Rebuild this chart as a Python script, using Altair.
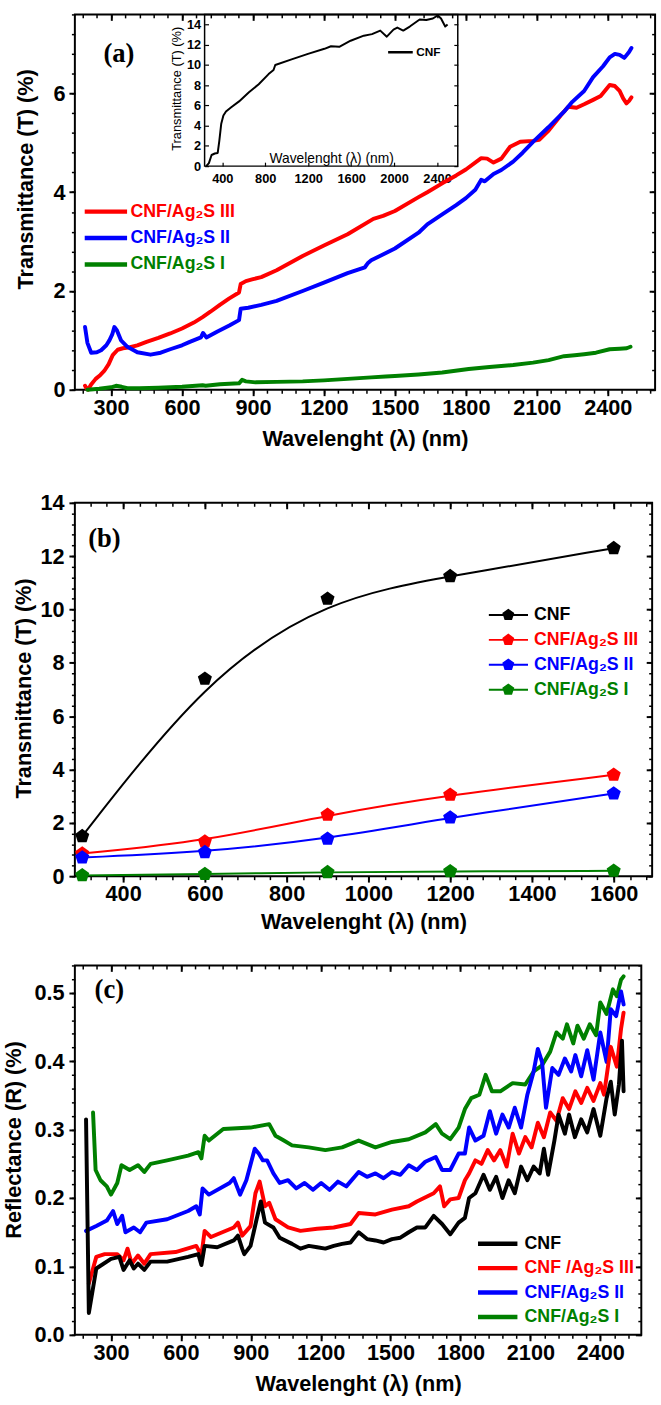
import altair as alt
import pandas as pd

SANS = "Liberation Sans"
SERIF = "Liberation Serif"
RED, BLUE, GREEN, BLACK = "#ff0000", "#0000ff", "#008000", "#000000"
X_TITLE = "Wavelenght (λ) (nm)"

# ---------------- (a) transmittance of the CNF/Ag2S films ----------------
A_NAMES = ["CNF/Ag₂S III", "CNF/Ag₂S II", "CNF/Ag₂S I"]
A_COLORS = [RED, BLUE, GREEN]

A_III_WL = [190, 197, 203, 215, 235, 255, 271, 290, 307, 328, 350, 380, 411, 450, 500, 550, 600, 650,
            687, 720, 760, 800, 841, 848, 870, 900, 935, 1000, 1110, 1200, 1300, 1409, 1450, 1500,
            1600, 1637, 1700, 1759, 1800, 1865, 1890, 1917, 1950, 1987, 2030, 2084, 2110, 2150, 2200,
            2233, 2268, 2300, 2338, 2370, 2408, 2430, 2450, 2465, 2479, 2490, 2500]
A_III_T = [0.08, 0.02, 0.0, 0.1, 0.22, 0.3, 0.38, 0.52, 0.7, 0.81, 0.84, 0.86, 0.9, 0.97, 1.05, 1.14,
           1.24, 1.36, 1.47, 1.58, 1.72, 1.85, 1.97, 2.14, 2.2, 2.24, 2.28, 2.42, 2.71, 2.92, 3.15,
           3.46, 3.52, 3.62, 3.9, 4.0, 4.18, 4.34, 4.46, 4.69, 4.68, 4.6, 4.68, 4.92, 5.02, 5.04,
           5.06, 5.25, 5.55, 5.73, 5.71, 5.78, 5.87, 5.95, 6.17, 6.15, 6.05, 5.9, 5.8, 5.85, 5.92]

A_II_WL = [190, 200, 216, 240, 258, 280, 293, 305, 314, 325, 342, 369, 411, 467, 510, 550, 600, 633,
           680, 689, 703, 750, 800, 841, 848, 880, 935, 1000, 1110, 1200, 1300, 1373, 1385, 1400,
           1500, 1600, 1637, 1700, 1759, 1800, 1840, 1865, 1880, 1917, 1950, 2000, 2040, 2084, 2150,
           2215, 2250, 2300, 2338, 2380, 2408, 2430, 2450, 2470, 2490, 2500]
A_II_T = [1.27, 0.95, 0.75, 0.76, 0.8, 0.9, 1.0, 1.12, 1.27, 1.2, 1.0, 0.87, 0.76, 0.71, 0.75, 0.82,
          0.9, 0.97, 1.06, 1.15, 1.06, 1.18, 1.3, 1.41, 1.64, 1.66, 1.72, 1.8, 2.0, 2.17, 2.36, 2.48,
          2.56, 2.62, 2.86, 3.18, 3.35, 3.55, 3.74, 3.88, 4.05, 4.25, 4.22, 4.37, 4.45, 4.62, 4.8,
          5.02, 5.32, 5.63, 5.83, 6.05, 6.33, 6.55, 6.73, 6.8, 6.78, 6.72, 6.84, 6.92]

A_I_WL = [200, 250, 300, 321, 345, 369, 420, 500, 600, 687, 700, 760, 841, 854, 870, 911, 1000, 1110,
          1200, 1300, 1400, 1461, 1500, 1600, 1700, 1812, 1900, 2000, 2084, 2150, 2215, 2260, 2300,
          2350, 2408, 2450, 2480, 2496]
A_I_T = [0.0, 0.02, 0.05, 0.08, 0.06, 0.03, 0.03, 0.04, 0.06, 0.09, 0.08, 0.11, 0.13, 0.2, 0.17,
         0.15, 0.16, 0.17, 0.19, 0.22, 0.25, 0.27, 0.28, 0.31, 0.35, 0.42, 0.46, 0.5, 0.55, 0.6,
         0.68, 0.7, 0.72, 0.75, 0.82, 0.83, 0.84, 0.87]

# inset of (a): bare CNF film
INSET_WL = [250, 275, 300, 330, 357, 372, 390, 410, 434, 480, 556, 648, 739, 831, 877, 893, 1045,
            1198, 1351, 1412, 1489, 1595, 1718, 1794, 1871, 1932, 1994, 2030, 2085, 2146, 2238,
            2299, 2361, 2407, 2437, 2476, 2498]
INSET_T = [0.0, 0.3, 1.1, 1.25, 1.3, 2.5, 4.2, 5.0, 5.4, 5.8, 6.4, 7.3, 8.1, 9.1, 9.5, 10.0, 10.55,
           11.1, 11.6, 11.85, 11.8, 12.4, 12.9, 13.05, 13.4, 12.8, 13.5, 13.7, 13.4, 13.8, 14.5,
           14.45, 14.6, 14.9, 14.6, 13.8, 14.0]

# ---------------- (b) transmittance at selected wavelengths ----------------
B_NAMES = ["CNF", "CNF/Ag₂S III", "CNF/Ag₂S II", "CNF/Ag₂S I"]
B_COLORS = [BLACK, RED, BLUE, GREEN]
B_WL = [300, 600, 900, 1200, 1600]
B_CNF = [1.5, 7.4, 10.4, 11.25, 12.3]
B_III = [0.85, 1.3, 2.3, 3.05, 3.8]
B_II = [0.7, 0.9, 1.4, 2.2, 3.1]
B_I = [0.03, 0.08, 0.15, 0.18, 0.2]

# ---------------- (c) reflectance ----------------
C_NAMES = ["CNF", "CNF /Ag₂S III", "CNF/Ag₂S II", "CNF/Ag₂S I"]
C_COLORS = [BLACK, RED, BLUE, GREEN]

C_CNF_WL = [193, 205, 237, 300, 336, 354, 380, 398, 416, 443, 470, 541, 631, 675, 688, 702, 756, 827,
            845, 863, 872, 899, 925, 943, 961, 997, 1024, 1077, 1113, 1149, 1185, 1220, 1256, 1292,
            1328, 1363, 1399, 1435, 1470, 1506, 1542, 1578, 1613, 1649, 1685, 1721, 1756, 1792,
            1819, 1837, 1864, 1899, 1926, 1953, 1980, 2007, 2033, 2060, 2087, 2114, 2140, 2158,
            2176, 2203, 2221, 2248, 2266, 2291, 2318, 2344, 2371, 2400, 2427, 2445, 2462, 2480,
            2493, 2500]
C_CNF_R = [0.315, 0.032, 0.097, 0.111, 0.114, 0.095, 0.109, 0.097, 0.104, 0.095, 0.107, 0.107, 0.114,
           0.118, 0.102, 0.13, 0.128, 0.138, 0.145, 0.126, 0.118, 0.13, 0.169, 0.195, 0.164, 0.157,
           0.142, 0.133, 0.126, 0.13, 0.128, 0.126, 0.13, 0.133, 0.135, 0.15, 0.14, 0.138, 0.135,
           0.14, 0.142, 0.15, 0.157, 0.157, 0.174, 0.162, 0.147, 0.164, 0.171, 0.2, 0.207, 0.234,
           0.212, 0.231, 0.2, 0.226, 0.207, 0.246, 0.226, 0.246, 0.236, 0.272, 0.234, 0.284, 0.322,
           0.294, 0.322, 0.289, 0.315, 0.296, 0.33, 0.291, 0.346, 0.37, 0.322, 0.366, 0.43, 0.356]

C_III_WL = [205, 237, 273, 327, 354, 371, 389, 416, 443, 470, 577, 666, 688, 702, 729, 827, 845, 863,
            899, 920, 938, 961, 979, 1006, 1060, 1113, 1185, 1256, 1328, 1363, 1435, 1506, 1578,
            1613, 1685, 1712, 1730, 1756, 1792, 1819, 1837, 1864, 1890, 1917, 1944, 1971, 1998,
            2024, 2051, 2078, 2105, 2132, 2158, 2185, 2212, 2239, 2266, 2293, 2318, 2344, 2371,
            2400, 2416, 2445, 2471, 2489, 2500]
C_III_R = [0.075, 0.114, 0.118, 0.118, 0.109, 0.126, 0.104, 0.116, 0.104, 0.118, 0.121, 0.13, 0.116,
           0.152, 0.143, 0.157, 0.164, 0.145, 0.159, 0.207, 0.224, 0.188, 0.193, 0.169, 0.157,
           0.152, 0.155, 0.157, 0.162, 0.178, 0.176, 0.183, 0.188, 0.195, 0.207, 0.217, 0.188,
           0.198, 0.2, 0.226, 0.236, 0.255, 0.25, 0.27, 0.255, 0.27, 0.246, 0.294, 0.265, 0.289,
           0.274, 0.31, 0.289, 0.325, 0.313, 0.346, 0.33, 0.356, 0.339, 0.361, 0.342, 0.368, 0.351,
           0.421, 0.392, 0.447, 0.471]

C_II_WL = [193, 237, 282, 309, 327, 348, 362, 398, 425, 452, 541, 631, 666, 681, 693, 720, 809, 827,
           854, 881, 917, 934, 952, 970, 997, 1024, 1060, 1095, 1131, 1167, 1202, 1238, 1274, 1310,
           1363, 1399, 1435, 1470, 1506, 1542, 1578, 1613, 1649, 1694, 1721, 1756, 1792, 1819,
           1837, 1864, 1899, 1926, 1953, 1980, 2007, 2033, 2060, 2087, 2114, 2132, 2150, 2167,
           2194, 2221, 2248, 2275, 2293, 2318, 2344, 2371, 2400, 2427, 2445, 2468, 2489, 2500]
C_II_R = [0.152, 0.159, 0.167, 0.181, 0.162, 0.174, 0.15, 0.157, 0.15, 0.164, 0.169, 0.181, 0.188,
          0.176, 0.214, 0.205, 0.222, 0.229, 0.205, 0.226, 0.272, 0.265, 0.255, 0.255, 0.236, 0.222,
          0.226, 0.214, 0.222, 0.212, 0.222, 0.212, 0.224, 0.217, 0.238, 0.231, 0.236, 0.229, 0.238,
          0.234, 0.248, 0.241, 0.253, 0.26, 0.241, 0.241, 0.265, 0.265, 0.303, 0.284, 0.291, 0.327,
          0.294, 0.322, 0.303, 0.332, 0.303, 0.351, 0.385, 0.418, 0.399, 0.332, 0.39, 0.38, 0.404,
          0.385, 0.409, 0.378, 0.416, 0.373, 0.442, 0.399, 0.476, 0.466, 0.502, 0.483]

C_I_WL = [223, 234, 255, 282, 300, 327, 345, 380, 416, 443, 470, 541, 631, 675, 688, 702, 720, 782,
          899, 979, 1006, 1042, 1077, 1149, 1220, 1292, 1363, 1435, 1506, 1578, 1649, 1694, 1721,
          1756, 1792, 1819, 1846, 1881, 1908, 1935, 1971, 2024, 2078, 2114, 2150, 2185, 2212, 2239,
          2257, 2284, 2302, 2329, 2355, 2382, 2400, 2427, 2454, 2471, 2489, 2500]
C_I_R = [0.325, 0.241, 0.226, 0.217, 0.205, 0.222, 0.248, 0.241, 0.248, 0.238, 0.25, 0.255, 0.262,
         0.267, 0.258, 0.291, 0.284, 0.301, 0.303, 0.308, 0.291, 0.284, 0.277, 0.274, 0.27, 0.274,
         0.284, 0.274, 0.282, 0.286, 0.296, 0.308, 0.294, 0.286, 0.303, 0.33, 0.346, 0.351, 0.38,
         0.356, 0.356, 0.368, 0.366, 0.385, 0.394, 0.414, 0.442, 0.433, 0.454, 0.426, 0.452, 0.433,
         0.454, 0.438, 0.486, 0.469, 0.505, 0.495, 0.519, 0.524]

# ---------------- axes, ticks and frames ----------------
A_XDOM, A_YDOM = [147, 2600], [0, 7.6]
B_XDOM, B_YDOM = [282, 1694], [0, 14]
C_XDOM, C_YDOM = [145, 2576], [0, 0.54]
IN_XDOM, IN_YDOM = [235, 2593], [0, 15]


def steps(start, stop, step):
    out, v = [], start
    while v <= stop + 1e-9:
        out.append(round(v, 6))
        v += step
    return out


A_X_MAJOR, A_X_MINOR = steps(300, 2400, 300), steps(180, 2580, 60)
A_Y_MAJOR, A_Y_MINOR = steps(0, 6, 2), steps(0, 7.6, 0.4)
B_X_MAJOR, B_X_MINOR = steps(400, 1600, 200), steps(320, 1680, 40)
B_Y_MAJOR, B_Y_MINOR = steps(0, 14, 2), steps(0, 14, 0.4)
C_X_MAJOR, C_X_MINOR = steps(300, 2400, 300), steps(180, 2570, 60)
C_Y_MAJOR, C_Y_MINOR = steps(0, 0.5, 0.1), steps(0, 0.54, 0.02)
IN_X_MAJOR, IN_Y_MAJOR = steps(400, 2400, 400), steps(0, 14, 2)

LABEL_COLOR = {"expr": "indexof(datum.label, 'III') >= 0 ? '#ff0000' : "
                       "indexof(datum.label, 'II') >= 0 ? '#0000ff' : "
                       "indexof(datum.label, ' I') >= 0 ? '#008000' : '#000000'"}

PENTAGON = "M0,-1L0.951,-0.309L0.588,0.809L-0.588,0.809L-0.951,-0.309Z"
LINE_PENTAGON = ("M-1,-0.05L1,-0.05L1,0.05L-1,0.05Z"
                 "M0,-0.32L0.304,-0.099L0.188,0.259L-0.188,0.259L-0.304,-0.099Z")


def long_table(series):
    rows = []
    for name, wl, vals in series:
        rows += [{"wl": w, "val": v, "series": name} for w, v in zip(wl, vals)]
    return pd.DataFrame(rows)


def axis(**kw):
    base = dict(grid=False, domain=False, tickColor=BLACK, tickWidth=2, minExtent=0,
                labelFont=SANS, labelFontSize=22, labelFontWeight="bold", labelColor=BLACK,
                labelFlush=False, labelOverlap=False, titleFont=SANS, titleFontSize=22,
                titleFontWeight="bold", titleColor=BLACK)
    base.update(kw)
    return alt.Axis(**base)


def legend(x, y, row_pad, **kw):
    base = dict(orient="none", legendX=x, legendY=y, title=None, padding=0, rowPadding=row_pad,
                clipHeight=18, labelFont=SANS, labelFontSize=18, labelFontWeight="bold",
                labelColor=LABEL_COLOR, labelLimit=0)
    base.update(kw)
    return alt.Legend(**base)


def frame_ticks(xscale, yscale, xdom, ydom, xmaj, xmin, ymaj, ymin, major=6, minor=3.5):
    """Minor ticks on bottom/left and mirrored inward ticks on top/right."""
    corner = pd.DataFrame({"wl": [xdom[0]], "val": [ydom[0]]})
    bare = dict(labels=False, title=None)

    def ghost(xax, yax):
        return alt.Chart(corner).mark_point(opacity=0).encode(
            x=alt.X("wl:Q", scale=xscale, axis=xax),
            y=alt.Y("val:Q", scale=yscale, axis=yax))

    return [
        ghost(axis(orient="bottom", values=xmin, tickSize=minor, tickWidth=1.5, **bare),
              axis(orient="left", values=ymin, tickSize=minor, tickWidth=1.5, **bare)),
        ghost(axis(orient="top", values=xmaj, tickSize=major, offset=-major, **bare),
              axis(orient="right", values=ymaj, tickSize=major, offset=-major, **bare)),
        ghost(axis(orient="top", values=xmin, tickSize=minor, offset=-minor, tickWidth=1.5, **bare),
              axis(orient="right", values=ymin, tickSize=minor, offset=-minor, tickWidth=1.5, **bare)),
    ]


def tag(text, x, y):
    return alt.Chart(pd.DataFrame({"tag": [text]})).mark_text(
        font=SERIF, fontSize=27, fontWeight="bold", color=BLACK
    ).encode(text="tag:N", x=alt.value(x), y=alt.value(y))


# ---------------- panel (a) ----------------
A_W, A_H = 589, 381
xs_a = alt.Scale(domain=A_XDOM, nice=False, zero=False)
ys_a = alt.Scale(domain=A_YDOM, nice=False, zero=False)

lines_a = alt.Chart(long_table([
    (A_NAMES[0], A_III_WL, A_III_T), (A_NAMES[1], A_II_WL, A_II_T), (A_NAMES[2], A_I_WL, A_I_T)
])).mark_line(strokeWidth=4, strokeCap="round", strokeJoin="round").encode(
    x=alt.X("wl:Q", scale=xs_a,
            axis=axis(orient="bottom", values=A_X_MAJOR, format="d", tickSize=6, labelPadding=2,
                      title=X_TITLE, titleBaseline="alphabetic", titleY=57)),
    y=alt.Y("val:Q", scale=ys_a,
            axis=axis(orient="left", values=A_Y_MAJOR, format="d", tickSize=6, labelPadding=4,
                      title="Transmittance (T) (%)", titleX=-50.3, titleY=167, titleAngle=270,
                      titleAlign="center", titleBaseline="middle")),
    color=alt.Color("series:N", scale=alt.Scale(domain=A_NAMES, range=A_COLORS),
                    legend=legend(7.5, 191.2, 8.8, symbolType="stroke", symbolSize=1849,
                                  symbolStrokeWidth=4.5, labelOffset=1)),
)

main_a = alt.layer(
    lines_a,
    *frame_ticks(xs_a, ys_a, A_XDOM, A_YDOM, A_X_MAJOR, A_X_MINOR, A_Y_MAJOR, A_Y_MINOR),
    tag("(a)", 44.7, 40.3),
).resolve_axis(x="independent", y="independent")

# inset placed through its own scale ranges inside panel (a)
xs_in = alt.Scale(domain=IN_XDOM, range=[131.7, 388.7], nice=False, zero=False)
ys_in = alt.Scale(domain=IN_YDOM, range=[154, 0], nice=False, zero=False)

inset_box = alt.Chart(pd.DataFrame({
    "x0": [IN_XDOM[0]], "x1": [IN_XDOM[1]], "y0": [IN_YDOM[0]], "y1": [IN_YDOM[1]]
})).mark_rect(fillOpacity=0, stroke=BLACK, strokeWidth=1.5).encode(
    x=alt.X("x0:Q", scale=xs_in, axis=None), x2="x1",
    y=alt.Y("y0:Q", scale=ys_in, axis=None), y2="y1")

inset_line = alt.Chart(long_table([("CNF", INSET_WL, INSET_T)])).mark_line(
    strokeWidth=2, strokeJoin="round"
).encode(
    x=alt.X("wl:Q", scale=xs_in,
            axis=axis(orient="bottom", values=IN_X_MAJOR, format="d", offset=-231, tickSize=4,
                      tickWidth=1.2, labelFontSize=13, labelPadding=7, title=X_TITLE,
                      titleFontSize=14, titleFontWeight="normal", titleBaseline="alphabetic",
                      titleX=260.2, titleY=0)),
    y=alt.Y("val:Q", scale=ys_in,
            axis=axis(orient="left", values=IN_Y_MAJOR, format="d", offset=-135.7, tickSize=4,
                      tickWidth=1.2, labelFontSize=13, labelPadding=4,
                      title="Transmittance (T) (%)", titleFontSize=13, titleFontWeight="normal",
                      titleX=-32, titleY=75, titleAngle=270, titleAlign="center",
                      titleBaseline="middle")),
    color=alt.Color("series:N", scale=alt.Scale(domain=["CNF"], range=[BLACK]),
                    legend=alt.Legend(orient="none", legendX=316.5, legendY=32.5, title=None,
                                      padding=0, clipHeight=12, symbolType="stroke",
                                      symbolSize=625, symbolStrokeWidth=2.5, labelFont=SANS,
                                      labelFontSize=12, labelFontWeight="bold",
                                      labelColor=BLACK, labelOffset=2)),
)

inset_right = alt.Chart(pd.DataFrame({"wl": [IN_XDOM[0]], "val": [IN_YDOM[0]]})).mark_point(
    opacity=0
).encode(
    x=alt.X("wl:Q", scale=xs_in, axis=None),
    y=alt.Y("val:Q", scale=ys_in,
            axis=axis(orient="right", values=IN_Y_MAJOR, offset=384.7 - A_W, tickSize=4,
                      tickWidth=1.2, labels=False, title=None)),
)

inset_a = alt.layer(inset_box, inset_line, inset_right).resolve_axis(x="independent", y="independent")

panel_a = alt.layer(main_a, inset_a).resolve_scale(
    x="independent", y="independent", color="independent"
).resolve_axis(x="independent", y="independent").resolve_legend(
    color="independent"
).properties(width=A_W, height=A_H)

# ---------------- panel (b) ----------------
B_W, B_H = 586, 379
xs_b = alt.Scale(domain=B_XDOM, nice=False, zero=False)
ys_b = alt.Scale(domain=B_YDOM, nice=False, zero=False)
table_b = long_table([(B_NAMES[0], B_WL, B_CNF), (B_NAMES[1], B_WL, B_III),
                      (B_NAMES[2], B_WL, B_II), (B_NAMES[3], B_WL, B_I)])

# one smoothed curve per sample, each in its own colour
curves_b = []
for i, (name, colour) in enumerate(zip(B_NAMES, B_COLORS)):
    if i == 0:
        xax = axis(orient="bottom", values=B_X_MAJOR, format="d", tickSize=6, labelPadding=2,
                   title=X_TITLE, titleBaseline="alphabetic", titleY=53)
        yax = axis(orient="left", values=B_Y_MAJOR, format="d", tickSize=6, labelPadding=5,
                   title="Transmittance (T) (%)", titleX=-52, titleY=188, titleAngle=270,
                   titleAlign="center", titleBaseline="middle")
    else:
        xax, yax = None, None
    curves_b.append(
        alt.Chart(table_b).transform_filter(alt.datum.series == name).mark_line(
            strokeWidth=2, interpolate="basis", color=colour
        ).encode(x=alt.X("wl:Q", scale=xs_b, axis=xax), y=alt.Y("val:Q", scale=ys_b, axis=yax))
    )

points_b = alt.Chart(table_b).mark_point(shape=PENTAGON, filled=True, size=225, opacity=1).encode(
    x=alt.X("wl:Q", scale=xs_b, axis=None),
    y=alt.Y("val:Q", scale=ys_b, axis=None),
    color=alt.Color("series:N", scale=alt.Scale(domain=B_NAMES, range=B_COLORS),
                    legend=legend(420, 104.8, 7.3, symbolType=LINE_PENTAGON, symbolSize=1600,
                                  symbolStrokeWidth=0, labelOffset=6)),
)

panel_b = alt.layer(
    *curves_b, points_b,
    *frame_ticks(xs_b, ys_b, B_XDOM, B_YDOM, B_X_MAJOR, B_X_MINOR, B_Y_MAJOR, B_Y_MINOR),
    tag("(b)", 30, 37),
).resolve_axis(x="independent", y="independent").properties(width=B_W, height=B_H)

# ---------------- panel (c) ----------------
C_W, C_H = 575, 375
xs_c = alt.Scale(domain=C_XDOM, nice=False, zero=False)
ys_c = alt.Scale(domain=C_YDOM, nice=False, zero=False)

lines_c = alt.Chart(long_table([
    (C_NAMES[3], C_I_WL, C_I_R), (C_NAMES[2], C_II_WL, C_II_R),
    (C_NAMES[1], C_III_WL, C_III_R), (C_NAMES[0], C_CNF_WL, C_CNF_R)
])).mark_line(strokeWidth=4, strokeCap="round", strokeJoin="round").encode(
    x=alt.X("wl:Q", scale=xs_c,
            axis=axis(orient="bottom", values=C_X_MAJOR, format="d", tickSize=6, labelPadding=2,
                      title=X_TITLE, titleBaseline="alphabetic", titleY=57)),
    y=alt.Y("val:Q", scale=ys_c,
            axis=axis(orient="left", values=C_Y_MAJOR, format=".1f", tickSize=6, labelPadding=5,
                      title="Reflectance (R) (%)", titleX=-62, titleY=176.7, titleAngle=270,
                      titleAlign="center", titleBaseline="middle")),
    color=alt.Color("series:N", scale=alt.Scale(domain=C_NAMES, range=C_COLORS),
                    legend=legend(406.75, 273.5, 6.8, symbolType="stroke", symbolSize=1600,
                                  symbolStrokeWidth=4.5, labelOffset=4.75)),
)

panel_c = alt.layer(
    lines_c,
    *frame_ticks(xs_c, ys_c, C_XDOM, C_YDOM, C_X_MAJOR, C_X_MINOR, C_Y_MAJOR, C_Y_MINOR),
    tag("(c)", 35, 25),
).resolve_axis(x="independent", y="independent").properties(width=C_W, height=C_H)

lower = alt.vconcat(panel_b, panel_c, spacing=30.6).resolve_scale(
    color="independent").resolve_legend(color="independent")

chart = alt.vconcat(
    panel_a,
    lower,
    spacing=40.8,
    padding={"left": 2, "top": 2, "right": 4, "bottom": 0},
    background="white",
).resolve_scale(color="independent").resolve_legend(
    color="independent"
).configure_view(stroke=BLACK, strokeWidth=2)

chart.save("out.html", embed_options={"renderer": "svg", "actions": False})
